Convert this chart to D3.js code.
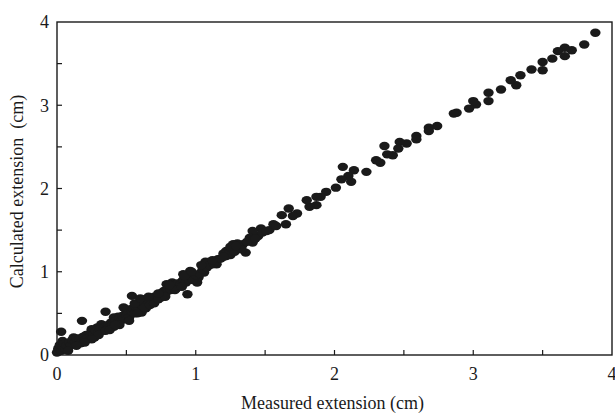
<!DOCTYPE html>
<html>
<head>
<meta charset="utf-8">
<script src="https://cdn.jsdelivr.net/npm/d3@7"></script>
<style>
  body { margin: 0; background: #fff; }
  text { font-family: "Liberation Serif", "DejaVu Serif", serif; fill: #1a1a1a; }
</style>
</head>
<body>
<svg id="chart"></svg>
<script>
// measured vs calculated extension (cm)
const measured = [
  3.88, 3.80, 3.71, 3.66, 3.66, 3.61, 3.57, 3.50, 3.50, 3.42, 3.34, 3.31, 3.27, 3.20, 3.11, 3.11,
  3.02, 3.00, 2.97, 2.88, 2.86, 2.74, 2.68, 2.68, 2.59, 2.59, 2.52, 2.47, 2.46, 2.42, 2.38, 2.36,
  2.33, 2.30, 2.23, 2.14, 2.12, 2.10, 2.06, 2.05, 2.01, 1.94, 1.90, 1.87, 1.87, 1.82, 1.80, 1.73,
  1.70, 1.67, 1.65, 1.62, 1.56, 1.53, 1.47, 1.45, 1.41, 1.41, 1.39, 1.36, 1.34, 1.30, 1.27, 1.27,
  1.25, 1.22, 1.22, 1.16, 1.15, 1.12, 1.07, 1.06, 1.01, 1.02, 0.96, 0.93, 0.94, 0.91, 0.90, 0.88,
  0.84, 0.83, 0.79, 0.81, 0.77, 0.74, 0.70, 0.67, 0.65, 0.63, 0.60, 0.61, 0.58, 0.54, 0.53, 0.50,
  0.48, 0.49, 0.44, 0.43, 0.41, 0.39, 0.35, 0.35, 0.32, 0.29, 0.27, 0.25, 0.23, 0.18, 0.18, 0.15,
  0.12, 0.08, 0.04, 0.03, 0.02, 0.01,
  0.00, 0.01, 0.02, 0.03, 0.04, 0.05, 0.06, 0.07, 0.09, 0.10, 0.11, 0.13, 0.14, 0.16, 0.17, 0.19,
  0.20, 0.21, 0.22, 0.24, 0.26, 0.27, 0.28, 0.30, 0.31, 0.33, 0.34, 0.36, 0.37, 0.38, 0.40, 0.41,
  0.42, 0.44, 0.45, 0.46, 0.47, 0.48, 0.50, 0.51, 0.52, 0.54, 0.55, 0.56, 0.57, 0.59, 0.60, 0.62,
  0.63, 0.64, 0.66, 0.68, 0.69, 0.71, 0.72, 0.75, 0.76, 0.78, 0.80, 0.82, 0.84, 0.86, 0.87, 0.89,
  0.91, 0.93, 0.95, 0.97, 0.98, 1.00, 1.03, 1.05, 1.08, 1.10, 1.13, 1.18, 1.20, 1.24, 1.26, 1.28,
  1.31, 1.33, 1.37, 1.43, 1.48, 1.51, 1.58,
  0.45, 0.52, 0.58, 0.63, 0.67, 0.70, 0.73, 0.78, 0.85, 0.90, 0.56, 0.60, 0.66, 0.73, 0.81, 0.92,
  0.97, 1.04, 1.12, 1.20, 1.25, 1.29, 0.30, 0.35, 0.38, 0.42, 0.25, 0.20, 0.14, 0.08
];
const calculated = [
  3.87, 3.73, 3.66, 3.69, 3.59, 3.65, 3.56, 3.52, 3.42, 3.43, 3.36, 3.24, 3.30, 3.19, 3.15, 3.05,
  3.01, 3.05, 2.96, 2.91, 2.90, 2.75, 2.73, 2.69, 2.63, 2.59, 2.54, 2.56, 2.48, 2.40, 2.41, 2.51,
  2.31, 2.34, 2.20, 2.22, 2.08, 2.15, 2.26, 2.11, 2.01, 1.96, 1.90, 1.90, 1.80, 1.78, 1.86, 1.70,
  1.67, 1.76, 1.57, 1.68, 1.57, 1.50, 1.52, 1.43, 1.49, 1.35, 1.41, 1.23, 1.33, 1.34, 1.33, 1.25,
  1.20, 1.25, 1.19, 1.15, 1.09, 1.09, 1.12, 0.99, 0.87, 0.93, 1.01, 0.93, 0.73, 0.97, 0.88, 0.85,
  0.81, 0.87, 0.85, 0.79, 0.77, 0.73, 0.70, 0.67, 0.61, 0.67, 0.65, 0.51, 0.59, 0.71, 0.55, 0.53,
  0.57, 0.48, 0.46, 0.42, 0.45, 0.39, 0.52, 0.35, 0.37, 0.33, 0.27, 0.31, 0.25, 0.21, 0.41, 0.17,
  0.21, 0.13, 0.17, 0.28, 0.09, 0.06,
  0.03, 0.08, 0.12, 0.05, 0.10, 0.14, 0.07, 0.11, 0.15, 0.12, 0.18, 0.16, 0.20, 0.19, 0.14, 0.22,
  0.18, 0.24, 0.20, 0.22, 0.24, 0.21, 0.29, 0.27, 0.31, 0.29, 0.33, 0.32, 0.36, 0.33, 0.37, 0.34,
  0.41, 0.40, 0.44, 0.41, 0.47, 0.44, 0.47, 0.50, 0.45, 0.52, 0.56, 0.50, 0.58, 0.55, 0.61, 0.58,
  0.62, 0.56, 0.64, 0.62, 0.68, 0.66, 0.70, 0.69, 0.75, 0.73, 0.80, 0.78, 0.84, 0.80, 0.86, 0.84,
  0.90, 0.87, 0.91, 0.95, 0.90, 0.96, 0.98, 1.03, 1.05, 1.08, 1.10, 1.16, 1.22, 1.22, 1.28, 1.24,
  1.30, 1.27, 1.36, 1.40, 1.47, 1.49, 1.55,
  0.36, 0.41, 0.50, 0.57, 0.60, 0.62, 0.67, 0.70, 0.78, 0.82, 0.62, 0.68, 0.70, 0.74, 0.84, 0.95,
  1.00, 1.08, 1.14, 1.18, 1.30, 1.31, 0.24, 0.29, 0.30, 0.36, 0.19, 0.15, 0.11, 0.05
];
const tickValues = [0, 1, 2, 3, 4];
const minorTicks = [0.5, 1, 1.5, 2, 2.5, 3, 3.5];
const xTitle = 'Measured extension (cm)';
const yTitle = 'Calculated extension  (cm)';

const width = 615, height = 415;
const margin = { top: 22, right: 3, bottom: 60, left: 57 };
const innerW = width - margin.left - margin.right;
const innerH = height - margin.top - margin.bottom;

const svg = d3.select('#chart')
  .attr('width', width)
  .attr('height', height);

const g = svg.append('g')
  .attr('transform', `translate(${margin.left},${margin.top})`);

const x = d3.scaleLinear().domain([0, 4]).range([0, innerW]);
const y = d3.scaleLinear().domain([0, 4]).range([innerH, 0]);

// frame
g.append('rect')
  .attr('width', innerW)
  .attr('height', innerH)
  .attr('fill', 'none')
  .attr('stroke', '#1a1a1a')
  .attr('stroke-width', 1.4);

// inward ticks
g.selectAll('.xtick')
  .data(minorTicks)
  .enter()
  .append('line')
  .attr('x1', d => x(d)).attr('x2', d => x(d))
  .attr('y1', innerH).attr('y2', innerH - 5)
  .attr('stroke', '#1a1a1a').attr('stroke-width', 1.2);

g.selectAll('.ytick')
  .data(minorTicks)
  .enter()
  .append('line')
  .attr('x1', 0).attr('x2', 5)
  .attr('y1', d => y(d)).attr('y2', d => y(d))
  .attr('stroke', '#1a1a1a').attr('stroke-width', 1.2);

// tick labels
g.selectAll('.xlab')
  .data(tickValues)
  .enter()
  .append('text')
  .attr('x', d => x(d))
  .attr('y', innerH + 25)
  .attr('text-anchor', 'middle')
  .style('font-size', '18px')
  .text(d => d);

g.selectAll('.ylab')
  .data(tickValues)
  .enter()
  .append('text')
  .attr('x', -8)
  .attr('y', d => y(d))
  .attr('dy', '0.35em')
  .attr('text-anchor', 'end')
  .style('font-size', '18px')
  .text(d => d);

// axis titles
svg.append('text')
  .attr('x', margin.left + innerW / 2 - 2)
  .attr('y', 409)
  .attr('text-anchor', 'middle')
  .style('font-size', '18px')
  .text(xTitle);

svg.append('text')
  .attr('transform', `translate(23,${margin.top + innerH / 2 + 3}) rotate(-90)`)
  .attr('text-anchor', 'middle')
  .style('font-size', '18px')
  .style('white-space', 'pre')
  .text(yTitle);

// points
const points = measured.map((m, i) => ({ m, c: calculated[i] }));
g.selectAll('.pt')
  .data(points)
  .enter()
  .append('ellipse')
  .attr('cx', d => x(d.m))
  .attr('cy', d => y(d.c))
  .attr('rx', 5.2)
  .attr('ry', 4.2)
  .attr('fill', '#1a1a1a');
</script>
</body>
</html>
